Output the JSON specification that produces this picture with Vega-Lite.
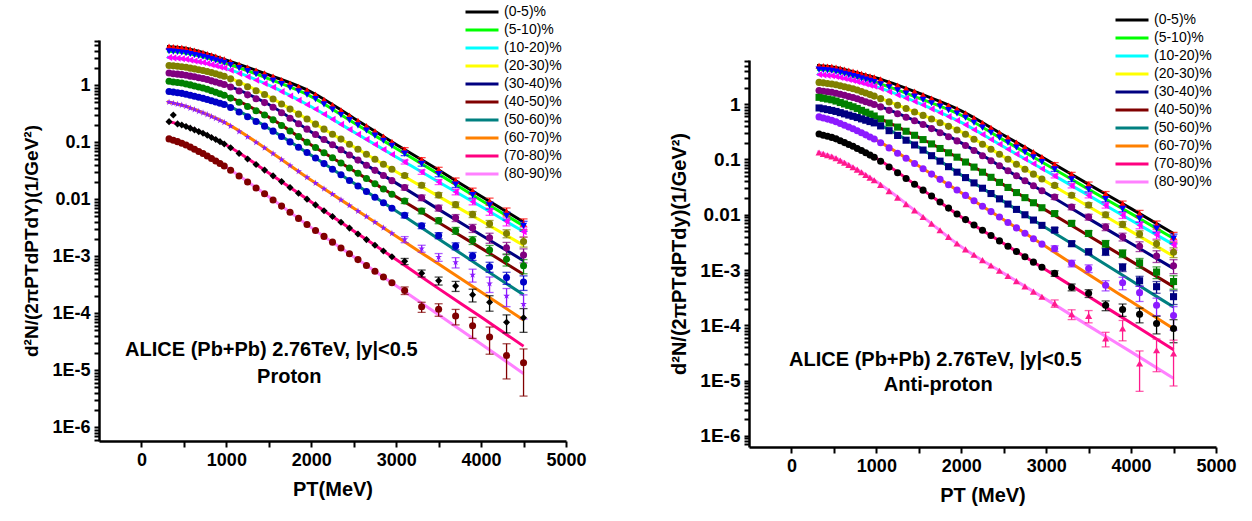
{
"$schema":"https://vega.github.io/schema/vega-lite/v6.json",
"padding":{"left":22,"top":5,"right":5,"bottom":5},
"config":{"view":{"stroke":null},
"axis":{"domainColor":"#000","domainWidth":2.5,"tickColor":"#000","tickWidth":2,"tickSize":6,"labelColor":"#000","labelFont":"Liberation Sans","labelFontWeight":"bold","labelFontSize":18,"titleFont":"Liberation Sans","titleFontWeight":"bold","titleColor":"#000","grid":false,"labelOverlap":false,"labelPadding":4,"labelFlush":false},
"legend":{"labelFont":"Liberation Sans","labelFontSize":14,"labelColor":"#000"}},
"datasets":{
"fL":[
{"g":"(0-5)%","x":300,"y":4.79},{"g":"(0-5)%","x":500,"y":4.47},{"g":"(0-5)%","x":750,"y":3.63},{"g":"(0-5)%","x":1000,"y":2.75},{"g":"(0-5)%","x":1500,"y":1.51},{"g":"(0-5)%","x":2000,"y":0.759},{"g":"(0-5)%","x":2500,"y":0.263},{"g":"(0-5)%","x":3000,"y":0.0912},{"g":"(0-5)%","x":3500,"y":0.0324},{"g":"(0-5)%","x":4000,"y":0.0112},{"g":"(0-5)%","x":4500,"y":0.00398},
{"g":"(5-10)%","x":300,"y":3.98},{"g":"(5-10)%","x":500,"y":3.72},{"g":"(5-10)%","x":750,"y":3.09},{"g":"(5-10)%","x":1000,"y":2.4},{"g":"(5-10)%","x":1500,"y":1.29},{"g":"(5-10)%","x":2000,"y":0.631},{"g":"(5-10)%","x":2500,"y":0.219},{"g":"(5-10)%","x":3000,"y":0.0776},{"g":"(5-10)%","x":3500,"y":0.0275},{"g":"(5-10)%","x":4000,"y":0.00955},{"g":"(5-10)%","x":4500,"y":0.00339},
{"g":"(10-20)%","x":300,"y":3.09},{"g":"(10-20)%","x":500,"y":2.88},{"g":"(10-20)%","x":750,"y":2.45},{"g":"(10-20)%","x":1000,"y":1.95},{"g":"(10-20)%","x":1500,"y":1.0},{"g":"(10-20)%","x":2000,"y":0.417},{"g":"(10-20)%","x":2500,"y":0.151},{"g":"(10-20)%","x":3000,"y":0.055},{"g":"(10-20)%","x":3500,"y":0.02},{"g":"(10-20)%","x":4000,"y":0.00741},{"g":"(10-20)%","x":4500,"y":0.00269},
{"g":"(20-30)%","x":300,"y":2.24},{"g":"(20-30)%","x":500,"y":2.09},{"g":"(20-30)%","x":750,"y":1.78},{"g":"(20-30)%","x":1000,"y":1.4},{"g":"(20-30)%","x":1500,"y":0.631},{"g":"(20-30)%","x":2000,"y":0.229},{"g":"(20-30)%","x":2500,"y":0.0832},{"g":"(20-30)%","x":3000,"y":0.0302},{"g":"(20-30)%","x":3500,"y":0.0112},{"g":"(20-30)%","x":4000,"y":0.00417},{"g":"(20-30)%","x":4500,"y":0.00155},
{"g":"(30-40)%","x":300,"y":1.64},{"g":"(30-40)%","x":500,"y":1.51},{"g":"(30-40)%","x":750,"y":1.29},{"g":"(30-40)%","x":1000,"y":1.0},{"g":"(30-40)%","x":1500,"y":0.457},{"g":"(30-40)%","x":2000,"y":0.151},{"g":"(30-40)%","x":2500,"y":0.0537},{"g":"(30-40)%","x":3000,"y":0.0191},{"g":"(30-40)%","x":3500,"y":0.00661},{"g":"(30-40)%","x":4000,"y":0.00234},{"g":"(30-40)%","x":4500,"y":0.000832},
{"g":"(40-50)%","x":300,"y":1.19},{"g":"(40-50)%","x":500,"y":1.07},{"g":"(40-50)%","x":750,"y":0.871},{"g":"(40-50)%","x":1000,"y":0.646},{"g":"(40-50)%","x":1500,"y":0.275},{"g":"(40-50)%","x":2000,"y":0.0891},{"g":"(40-50)%","x":2500,"y":0.0316},{"g":"(40-50)%","x":3000,"y":0.011},{"g":"(40-50)%","x":3500,"y":0.00389},{"g":"(40-50)%","x":4000,"y":0.00138},{"g":"(40-50)%","x":4500,"y":0.000479},
{"g":"(50-60)%","x":300,"y":0.785},{"g":"(50-60)%","x":500,"y":0.708},{"g":"(50-60)%","x":750,"y":0.575},{"g":"(50-60)%","x":1000,"y":0.447},{"g":"(50-60)%","x":1500,"y":0.174},{"g":"(50-60)%","x":2000,"y":0.0589},{"g":"(50-60)%","x":2500,"y":0.0191},{"g":"(50-60)%","x":3000,"y":0.00617},{"g":"(50-60)%","x":3500,"y":0.002},{"g":"(50-60)%","x":4000,"y":0.000646},{"g":"(50-60)%","x":4500,"y":0.000209},
{"g":"(60-70)%","x":300,"y":0.513},{"g":"(60-70)%","x":500,"y":0.437},{"g":"(60-70)%","x":750,"y":0.316},{"g":"(60-70)%","x":1000,"y":0.214},{"g":"(60-70)%","x":1500,"y":0.0708},{"g":"(60-70)%","x":2000,"y":0.0214},{"g":"(60-70)%","x":2500,"y":0.00692},{"g":"(60-70)%","x":3000,"y":0.00224},{"g":"(60-70)%","x":3500,"y":0.000724},{"g":"(60-70)%","x":4000,"y":0.000234},{"g":"(60-70)%","x":4500,"y":0.0000759},
{"g":"(70-80)%","x":300,"y":0.234},{"g":"(70-80)%","x":500,"y":0.195},{"g":"(70-80)%","x":750,"y":0.138},{"g":"(70-80)%","x":1000,"y":0.0891},{"g":"(70-80)%","x":1500,"y":0.0288},{"g":"(70-80)%","x":2000,"y":0.00891},{"g":"(70-80)%","x":2500,"y":0.00275},{"g":"(70-80)%","x":3000,"y":0.000871},{"g":"(70-80)%","x":3500,"y":0.000269},{"g":"(70-80)%","x":4000,"y":0.0000851},{"g":"(70-80)%","x":4500,"y":0.0000263},
{"g":"(80-90)%","x":300,"y":0.117},{"g":"(80-90)%","x":500,"y":0.0933},{"g":"(80-90)%","x":750,"y":0.0603},{"g":"(80-90)%","x":1000,"y":0.0363},{"g":"(80-90)%","x":1500,"y":0.011},{"g":"(80-90)%","x":2000,"y":0.00316},{"g":"(80-90)%","x":2500,"y":0.000977},{"g":"(80-90)%","x":3000,"y":0.000302},{"g":"(80-90)%","x":3500,"y":0.0000933},{"g":"(80-90)%","x":4000,"y":0.0000288},{"g":"(80-90)%","x":4500,"y":0.00000871}
],
"fR":[
{"g":"(0-5)%","x":300,"y":5.01},{"g":"(0-5)%","x":500,"y":4.68},{"g":"(0-5)%","x":750,"y":3.8},{"g":"(0-5)%","x":1000,"y":2.99},{"g":"(0-5)%","x":1500,"y":1.58},{"g":"(0-5)%","x":2000,"y":0.759},{"g":"(0-5)%","x":2500,"y":0.275},{"g":"(0-5)%","x":3000,"y":0.1},{"g":"(0-5)%","x":3500,"y":0.0355},{"g":"(0-5)%","x":4000,"y":0.0129},{"g":"(0-5)%","x":4500,"y":0.00457},
{"g":"(5-10)%","x":300,"y":4.27},{"g":"(5-10)%","x":500,"y":3.98},{"g":"(5-10)%","x":750,"y":3.16},{"g":"(5-10)%","x":1000,"y":2.45},{"g":"(5-10)%","x":1500,"y":1.29},{"g":"(5-10)%","x":2000,"y":0.631},{"g":"(5-10)%","x":2500,"y":0.224},{"g":"(5-10)%","x":3000,"y":0.0813},{"g":"(5-10)%","x":3500,"y":0.0288},{"g":"(5-10)%","x":4000,"y":0.0105},{"g":"(5-10)%","x":4500,"y":0.00372},
{"g":"(10-20)%","x":300,"y":3.47},{"g":"(10-20)%","x":500,"y":3.24},{"g":"(10-20)%","x":750,"y":2.63},{"g":"(10-20)%","x":1000,"y":2.06},{"g":"(10-20)%","x":1500,"y":1.05},{"g":"(10-20)%","x":2000,"y":0.468},{"g":"(10-20)%","x":2500,"y":0.17},{"g":"(10-20)%","x":3000,"y":0.0617},{"g":"(10-20)%","x":3500,"y":0.0224},{"g":"(10-20)%","x":4000,"y":0.00794},{"g":"(10-20)%","x":4500,"y":0.00288},
{"g":"(20-30)%","x":300,"y":2.51},{"g":"(20-30)%","x":500,"y":2.29},{"g":"(20-30)%","x":750,"y":1.86},{"g":"(20-30)%","x":1000,"y":1.36},{"g":"(20-30)%","x":1500,"y":0.676},{"g":"(20-30)%","x":2000,"y":0.316},{"g":"(20-30)%","x":2500,"y":0.112},{"g":"(20-30)%","x":3000,"y":0.0398},{"g":"(20-30)%","x":3500,"y":0.0141},{"g":"(20-30)%","x":4000,"y":0.00501},{"g":"(20-30)%","x":4500,"y":0.00178},
{"g":"(30-40)%","x":300,"y":1.78},{"g":"(30-40)%","x":500,"y":1.62},{"g":"(30-40)%","x":750,"y":1.29},{"g":"(30-40)%","x":1000,"y":0.959},{"g":"(30-40)%","x":1500,"y":0.468},{"g":"(30-40)%","x":2000,"y":0.2},{"g":"(30-40)%","x":2500,"y":0.0692},{"g":"(30-40)%","x":3000,"y":0.0245},{"g":"(30-40)%","x":3500,"y":0.00851},{"g":"(30-40)%","x":4000,"y":0.00302},{"g":"(30-40)%","x":4500,"y":0.00107},
{"g":"(40-50)%","x":300,"y":1.35},{"g":"(40-50)%","x":500,"y":1.17},{"g":"(40-50)%","x":750,"y":0.871},{"g":"(40-50)%","x":1000,"y":0.589},{"g":"(40-50)%","x":1500,"y":0.251},{"g":"(40-50)%","x":2000,"y":0.1},{"g":"(40-50)%","x":2500,"y":0.0347},{"g":"(40-50)%","x":3000,"y":0.012},{"g":"(40-50)%","x":3500,"y":0.00417},{"g":"(40-50)%","x":4000,"y":0.00145},{"g":"(40-50)%","x":4500,"y":0.000501},
{"g":"(50-60)%","x":300,"y":0.871},{"g":"(50-60)%","x":500,"y":0.759},{"g":"(50-60)%","x":750,"y":0.589},{"g":"(50-60)%","x":1000,"y":0.447},{"g":"(50-60)%","x":1500,"y":0.166},{"g":"(50-60)%","x":2000,"y":0.0525},{"g":"(50-60)%","x":2500,"y":0.0174},{"g":"(50-60)%","x":3000,"y":0.00575},{"g":"(50-60)%","x":3500,"y":0.00195},{"g":"(50-60)%","x":4000,"y":0.000646},{"g":"(50-60)%","x":4500,"y":0.000214},
{"g":"(60-70)%","x":300,"y":0.603},{"g":"(60-70)%","x":500,"y":0.501},{"g":"(60-70)%","x":750,"y":0.347},{"g":"(60-70)%","x":1000,"y":0.224},{"g":"(60-70)%","x":1500,"y":0.0759},{"g":"(60-70)%","x":2000,"y":0.0251},{"g":"(60-70)%","x":2500,"y":0.00813},{"g":"(60-70)%","x":3000,"y":0.00263},{"g":"(60-70)%","x":3500,"y":0.000832},{"g":"(60-70)%","x":4000,"y":0.000269},{"g":"(60-70)%","x":4500,"y":0.0000871},
{"g":"(70-80)%","x":300,"y":0.295},{"g":"(70-80)%","x":500,"y":0.245},{"g":"(70-80)%","x":750,"y":0.166},{"g":"(70-80)%","x":1000,"y":0.105},{"g":"(70-80)%","x":1500,"y":0.0316},{"g":"(70-80)%","x":2000,"y":0.00912},{"g":"(70-80)%","x":2500,"y":0.00302},{"g":"(70-80)%","x":3000,"y":0.001},{"g":"(70-80)%","x":3500,"y":0.000331},{"g":"(70-80)%","x":4000,"y":0.00011},{"g":"(70-80)%","x":4500,"y":0.0000363},
{"g":"(80-90)%","x":300,"y":0.138},{"g":"(80-90)%","x":500,"y":0.11},{"g":"(80-90)%","x":750,"y":0.0692},{"g":"(80-90)%","x":1000,"y":0.0398},{"g":"(80-90)%","x":1500,"y":0.0105},{"g":"(80-90)%","x":2000,"y":0.00263},{"g":"(80-90)%","x":2500,"y":0.000871},{"g":"(80-90)%","x":3000,"y":0.000295},{"g":"(80-90)%","x":3500,"y":0.0000977},{"g":"(80-90)%","x":4000,"y":0.0000331},{"g":"(80-90)%","x":4500,"y":0.000011}
],
"pL":[
{"c":"(0-5)%","x":325,"y":4.74},{"c":"(0-5)%","x":375,"y":4.67},{"c":"(0-5)%","x":425,"y":4.58},{"c":"(0-5)%","x":475,"y":4.51},{"c":"(0-5)%","x":525,"y":4.38},{"c":"(0-5)%","x":575,"y":4.2},{"c":"(0-5)%","x":625,"y":4.03},{"c":"(0-5)%","x":675,"y":3.86},{"c":"(0-5)%","x":725,"y":3.71},{"c":"(0-5)%","x":775,"y":3.53},{"c":"(0-5)%","x":825,"y":3.34},{"c":"(0-5)%","x":875,"y":3.16},{"c":"(0-5)%","x":925,"y":2.99},{"c":"(0-5)%","x":975,"y":2.83},{"c":"(0-5)%","x":1050,"y":2.59},{"c":"(0-5)%","x":1150,"y":2.3},{"c":"(0-5)%","x":1250,"y":2.04},{"c":"(0-5)%","x":1350,"y":1.81},{"c":"(0-5)%","x":1450,"y":1.61},{"c":"(0-5)%","x":1550,"y":1.41},{"c":"(0-5)%","x":1650,"y":1.23},{"c":"(0-5)%","x":1750,"y":1.07},{"c":"(0-5)%","x":1850,"y":0.933},{"c":"(0-5)%","x":1950,"y":0.813},{"c":"(0-5)%","x":2050,"y":0.682},{"c":"(0-5)%","x":2150,"y":0.552},{"c":"(0-5)%","x":2250,"y":0.447},{"c":"(0-5)%","x":2350,"y":0.361},{"c":"(0-5)%","x":2450,"y":0.292},{"c":"(0-5)%","x":2550,"y":0.237},{"c":"(0-5)%","x":2650,"y":0.191},{"c":"(0-5)%","x":2750,"y":0.155},{"c":"(0-5)%","x":2850,"y":0.125},{"c":"(0-5)%","x":2950,"y":0.101},{"c":"(0-5)%","x":3100,"y":0.0741,"e":0.0059},{"c":"(0-5)%","x":3300,"y":0.049,"e":0.0044},{"c":"(0-5)%","x":3500,"y":0.033,"e":0.0032},{"c":"(0-5)%","x":3700,"y":0.0212,"e":0.0023},{"c":"(0-5)%","x":3900,"y":0.0139,"e":0.0017},{"c":"(0-5)%","x":4100,"y":0.00912,"e":0.0013},{"c":"(0-5)%","x":4300,"y":0.00603,"e":0.00096},{"c":"(0-5)%","x":4500,"y":0.0037,"e":0.0008},
{"c":"(5-10)%","x":325,"y":3.94},{"c":"(5-10)%","x":375,"y":3.88},{"c":"(5-10)%","x":425,"y":3.81},{"c":"(5-10)%","x":475,"y":3.75},{"c":"(5-10)%","x":525,"y":3.65},{"c":"(5-10)%","x":575,"y":3.52},{"c":"(5-10)%","x":625,"y":3.39},{"c":"(5-10)%","x":675,"y":3.27},{"c":"(5-10)%","x":725,"y":3.15},{"c":"(5-10)%","x":775,"y":3.01},{"c":"(5-10)%","x":825,"y":2.86},{"c":"(5-10)%","x":875,"y":2.72},{"c":"(5-10)%","x":925,"y":2.59},{"c":"(5-10)%","x":975,"y":2.46},{"c":"(5-10)%","x":1050,"y":2.25},{"c":"(5-10)%","x":1150,"y":1.99},{"c":"(5-10)%","x":1250,"y":1.76},{"c":"(5-10)%","x":1350,"y":1.55},{"c":"(5-10)%","x":1450,"y":1.37},{"c":"(5-10)%","x":1550,"y":1.2},{"c":"(5-10)%","x":1650,"y":1.04},{"c":"(5-10)%","x":1750,"y":0.9},{"c":"(5-10)%","x":1850,"y":0.78},{"c":"(5-10)%","x":1950,"y":0.68},{"c":"(5-10)%","x":2050,"y":0.568},{"c":"(5-10)%","x":2150,"y":0.459},{"c":"(5-10)%","x":2250,"y":0.372},{"c":"(5-10)%","x":2350,"y":0.3},{"c":"(5-10)%","x":2450,"y":0.243},{"c":"(5-10)%","x":2550,"y":0.197},{"c":"(5-10)%","x":2650,"y":0.16},{"c":"(5-10)%","x":2750,"y":0.13},{"c":"(5-10)%","x":2850,"y":0.106},{"c":"(5-10)%","x":2950,"y":0.086},{"c":"(5-10)%","x":3100,"y":0.063,"e":0.005},{"c":"(5-10)%","x":3300,"y":0.0417,"e":0.0038},{"c":"(5-10)%","x":3500,"y":0.0275,"e":0.0028},{"c":"(5-10)%","x":3700,"y":0.018,"e":0.002},{"c":"(5-10)%","x":3900,"y":0.0118,"e":0.0014},{"c":"(5-10)%","x":4100,"y":0.0078,"e":0.0011},{"c":"(5-10)%","x":4300,"y":0.0051,"e":0.00082},{"c":"(5-10)%","x":4500,"y":0.0034,"e":0.00068},
{"c":"(10-20)%","x":325,"y":3.06},{"c":"(10-20)%","x":375,"y":3.01},{"c":"(10-20)%","x":425,"y":2.96},{"c":"(10-20)%","x":475,"y":2.91},{"c":"(10-20)%","x":525,"y":2.84},{"c":"(10-20)%","x":575,"y":2.75},{"c":"(10-20)%","x":625,"y":2.66},{"c":"(10-20)%","x":675,"y":2.58},{"c":"(10-20)%","x":725,"y":2.49},{"c":"(10-20)%","x":775,"y":2.4},{"c":"(10-20)%","x":825,"y":2.29},{"c":"(10-20)%","x":875,"y":2.19},{"c":"(10-20)%","x":925,"y":2.09},{"c":"(10-20)%","x":975,"y":2.0},{"c":"(10-20)%","x":1050,"y":1.82},{"c":"(10-20)%","x":1150,"y":1.6},{"c":"(10-20)%","x":1250,"y":1.4},{"c":"(10-20)%","x":1350,"y":1.22},{"c":"(10-20)%","x":1450,"y":1.07},{"c":"(10-20)%","x":1550,"y":0.916},{"c":"(10-20)%","x":1650,"y":0.769},{"c":"(10-20)%","x":1750,"y":0.646},{"c":"(10-20)%","x":1850,"y":0.542},{"c":"(10-20)%","x":1950,"y":0.455},{"c":"(10-20)%","x":2050,"y":0.377},{"c":"(10-20)%","x":2150,"y":0.308},{"c":"(10-20)%","x":2250,"y":0.251},{"c":"(10-20)%","x":2350,"y":0.205},{"c":"(10-20)%","x":2450,"y":0.167},{"c":"(10-20)%","x":2550,"y":0.137},{"c":"(10-20)%","x":2650,"y":0.112},{"c":"(10-20)%","x":2750,"y":0.0912},{"c":"(10-20)%","x":2850,"y":0.0745},{"c":"(10-20)%","x":2950,"y":0.0608},{"c":"(10-20)%","x":3100,"y":0.0449,"e":0.0036},{"c":"(10-20)%","x":3300,"y":0.0299,"e":0.0027},{"c":"(10-20)%","x":3500,"y":0.02,"e":0.002},{"c":"(10-20)%","x":3700,"y":0.0134,"e":0.0015},{"c":"(10-20)%","x":3900,"y":0.00904,"e":0.0011},{"c":"(10-20)%","x":4100,"y":0.00605,"e":0.00085},{"c":"(10-20)%","x":4300,"y":0.00404,"e":0.00065},{"c":"(10-20)%","x":4500,"y":0.00269,"e":0.00054},
{"c":"(20-30)%","x":325,"y":2.22},{"c":"(20-30)%","x":375,"y":2.18},{"c":"(20-30)%","x":425,"y":2.14},{"c":"(20-30)%","x":475,"y":2.11},{"c":"(20-30)%","x":525,"y":2.06},{"c":"(20-30)%","x":575,"y":1.99},{"c":"(20-30)%","x":625,"y":1.93},{"c":"(20-30)%","x":675,"y":1.87},{"c":"(20-30)%","x":725,"y":1.81},{"c":"(20-30)%","x":775,"y":1.74},{"c":"(20-30)%","x":825,"y":1.66},{"c":"(20-30)%","x":875,"y":1.58},{"c":"(20-30)%","x":925,"y":1.5},{"c":"(20-30)%","x":975,"y":1.43},{"c":"(20-30)%","x":1050,"y":1.29},{"c":"(20-30)%","x":1150,"y":1.1},{"c":"(20-30)%","x":1250,"y":0.94},{"c":"(20-30)%","x":1350,"y":0.8},{"c":"(20-30)%","x":1450,"y":0.684},{"c":"(20-30)%","x":1550,"y":0.57},{"c":"(20-30)%","x":1650,"y":0.466},{"c":"(20-30)%","x":1750,"y":0.38},{"c":"(20-30)%","x":1850,"y":0.31},{"c":"(20-30)%","x":1950,"y":0.254},{"c":"(20-30)%","x":2050,"y":0.207},{"c":"(20-30)%","x":2150,"y":0.169},{"c":"(20-30)%","x":2250,"y":0.138},{"c":"(20-30)%","x":2350,"y":0.113},{"c":"(20-30)%","x":2450,"y":0.092},{"c":"(20-30)%","x":2550,"y":0.0752},{"c":"(20-30)%","x":2650,"y":0.0614},{"c":"(20-30)%","x":2750,"y":0.0501},{"c":"(20-30)%","x":2850,"y":0.0409},{"c":"(20-30)%","x":2950,"y":0.0334},{"c":"(20-30)%","x":3100,"y":0.026,"e":0.0021},{"c":"(20-30)%","x":3300,"y":0.0175,"e":0.0016},{"c":"(20-30)%","x":3500,"y":0.0118,"e":0.0012},{"c":"(20-30)%","x":3700,"y":0.008,"e":0.00088},{"c":"(20-30)%","x":3900,"y":0.0054,"e":0.00065},{"c":"(20-30)%","x":4100,"y":0.0037,"e":0.00052},{"c":"(20-30)%","x":4300,"y":0.0025,"e":0.0004},{"c":"(20-30)%","x":4500,"y":0.0018,"e":0.00036},
{"c":"(30-40)%","x":325,"y":1.63},{"c":"(30-40)%","x":375,"y":1.59},{"c":"(30-40)%","x":425,"y":1.56},{"c":"(30-40)%","x":475,"y":1.53},{"c":"(30-40)%","x":525,"y":1.49},{"c":"(30-40)%","x":575,"y":1.44},{"c":"(30-40)%","x":625,"y":1.4},{"c":"(30-40)%","x":675,"y":1.35},{"c":"(30-40)%","x":725,"y":1.31},{"c":"(30-40)%","x":775,"y":1.26},{"c":"(30-40)%","x":825,"y":1.19},{"c":"(30-40)%","x":875,"y":1.14},{"c":"(30-40)%","x":925,"y":1.08},{"c":"(30-40)%","x":975,"y":1.03},{"c":"(30-40)%","x":1050,"y":0.925},{"c":"(30-40)%","x":1150,"y":0.791},{"c":"(30-40)%","x":1250,"y":0.676},{"c":"(30-40)%","x":1350,"y":0.578},{"c":"(30-40)%","x":1450,"y":0.494},{"c":"(30-40)%","x":1550,"y":0.409},{"c":"(30-40)%","x":1650,"y":0.328},{"c":"(30-40)%","x":1750,"y":0.263},{"c":"(30-40)%","x":1850,"y":0.211},{"c":"(30-40)%","x":1950,"y":0.169},{"c":"(30-40)%","x":2050,"y":0.136},{"c":"(30-40)%","x":2150,"y":0.111},{"c":"(30-40)%","x":2250,"y":0.0902},{"c":"(30-40)%","x":2350,"y":0.0733},{"c":"(30-40)%","x":2450,"y":0.0596},{"c":"(30-40)%","x":2550,"y":0.0484},{"c":"(30-40)%","x":2650,"y":0.0394},{"c":"(30-40)%","x":2750,"y":0.032},{"c":"(30-40)%","x":2850,"y":0.026},{"c":"(30-40)%","x":2950,"y":0.0211},{"c":"(30-40)%","x":3100,"y":0.016,"e":0.0016},{"c":"(30-40)%","x":3300,"y":0.0106,"e":0.0012},{"c":"(30-40)%","x":3500,"y":0.007,"e":0.00084},{"c":"(30-40)%","x":3700,"y":0.0047,"e":0.00066},{"c":"(30-40)%","x":3900,"y":0.0031,"e":0.0005},{"c":"(30-40)%","x":4100,"y":0.0021,"e":0.00042},{"c":"(30-40)%","x":4300,"y":0.0014,"e":0.00034},{"c":"(30-40)%","x":4500,"y":0.00105,"e":0.00029},
{"c":"(40-50)%","x":325,"y":1.17},{"c":"(40-50)%","x":375,"y":1.14},{"c":"(40-50)%","x":425,"y":1.11},{"c":"(40-50)%","x":475,"y":1.09},{"c":"(40-50)%","x":525,"y":1.05},{"c":"(40-50)%","x":575,"y":1.01},{"c":"(40-50)%","x":625,"y":0.966},{"c":"(40-50)%","x":675,"y":0.927},{"c":"(40-50)%","x":725,"y":0.889},{"c":"(40-50)%","x":775,"y":0.845},{"c":"(40-50)%","x":825,"y":0.796},{"c":"(40-50)%","x":875,"y":0.75},{"c":"(40-50)%","x":925,"y":0.706},{"c":"(40-50)%","x":975,"y":0.665},{"c":"(40-50)%","x":1050,"y":0.593},{"c":"(40-50)%","x":1150,"y":0.5},{"c":"(40-50)%","x":1250,"y":0.422},{"c":"(40-50)%","x":1350,"y":0.356},{"c":"(40-50)%","x":1450,"y":0.3},{"c":"(40-50)%","x":1550,"y":0.246},{"c":"(40-50)%","x":1650,"y":0.196},{"c":"(40-50)%","x":1750,"y":0.157},{"c":"(40-50)%","x":1850,"y":0.125},{"c":"(40-50)%","x":1950,"y":0.0998},{"c":"(40-50)%","x":2050,"y":0.0804},{"c":"(40-50)%","x":2150,"y":0.0653},{"c":"(40-50)%","x":2250,"y":0.0531},{"c":"(40-50)%","x":2350,"y":0.0431},{"c":"(40-50)%","x":2450,"y":0.0351},{"c":"(40-50)%","x":2550,"y":0.0284},{"c":"(40-50)%","x":2650,"y":0.023},{"c":"(40-50)%","x":2750,"y":0.0186},{"c":"(40-50)%","x":2850,"y":0.0151},{"c":"(40-50)%","x":2950,"y":0.0122},{"c":"(40-50)%","x":3100,"y":0.0093,"e":0.00093},{"c":"(40-50)%","x":3300,"y":0.0062,"e":0.00068},{"c":"(40-50)%","x":3500,"y":0.0042,"e":0.0005},{"c":"(40-50)%","x":3700,"y":0.0028,"e":0.00039},{"c":"(40-50)%","x":3900,"y":0.0019,"e":0.0003},{"c":"(40-50)%","x":4100,"y":0.00128,"e":0.00026},{"c":"(40-50)%","x":4300,"y":0.00088,"e":0.00021},{"c":"(40-50)%","x":4500,"y":0.00068,"e":0.00019},
{"c":"(50-60)%","x":325,"y":0.774},{"c":"(50-60)%","x":375,"y":0.755},{"c":"(50-60)%","x":425,"y":0.736},{"c":"(50-60)%","x":475,"y":0.718},{"c":"(50-60)%","x":525,"y":0.693},{"c":"(50-60)%","x":575,"y":0.665},{"c":"(50-60)%","x":625,"y":0.638},{"c":"(50-60)%","x":675,"y":0.612},{"c":"(50-60)%","x":725,"y":0.587},{"c":"(50-60)%","x":775,"y":0.561},{"c":"(50-60)%","x":825,"y":0.533},{"c":"(50-60)%","x":875,"y":0.507},{"c":"(50-60)%","x":925,"y":0.482},{"c":"(50-60)%","x":975,"y":0.458},{"c":"(50-60)%","x":1050,"y":0.406},{"c":"(50-60)%","x":1150,"y":0.337},{"c":"(50-60)%","x":1250,"y":0.279},{"c":"(50-60)%","x":1350,"y":0.231},{"c":"(50-60)%","x":1450,"y":0.191},{"c":"(50-60)%","x":1550,"y":0.156},{"c":"(50-60)%","x":1650,"y":0.126},{"c":"(50-60)%","x":1750,"y":0.101},{"c":"(50-60)%","x":1850,"y":0.0815},{"c":"(50-60)%","x":1950,"y":0.0656},{"c":"(50-60)%","x":2050,"y":0.0526},{"c":"(50-60)%","x":2150,"y":0.042},{"c":"(50-60)%","x":2250,"y":0.0335},{"c":"(50-60)%","x":2350,"y":0.0267},{"c":"(50-60)%","x":2450,"y":0.0213},{"c":"(50-60)%","x":2550,"y":0.017},{"c":"(50-60)%","x":2650,"y":0.0136},{"c":"(50-60)%","x":2750,"y":0.0108},{"c":"(50-60)%","x":2850,"y":0.00865},{"c":"(50-60)%","x":2950,"y":0.0069},{"c":"(50-60)%","x":3100,"y":0.0052,"e":0.00052},{"c":"(50-60)%","x":3300,"y":0.0034,"e":0.00037},{"c":"(50-60)%","x":3500,"y":0.0023,"e":0.00028},{"c":"(50-60)%","x":3700,"y":0.0015,"e":0.00021},{"c":"(50-60)%","x":3900,"y":0.001,"e":0.00016},{"c":"(50-60)%","x":4100,"y":0.00065,"e":0.00013},{"c":"(50-60)%","x":4300,"y":0.00042,"e":0.0001},{"c":"(50-60)%","x":4500,"y":0.00035,"e":0.0001},
{"c":"(60-70)%","x":325,"y":0.502},{"c":"(60-70)%","x":375,"y":0.483},{"c":"(60-70)%","x":425,"y":0.463},{"c":"(60-70)%","x":475,"y":0.446},{"c":"(60-70)%","x":525,"y":0.423},{"c":"(60-70)%","x":575,"y":0.396},{"c":"(60-70)%","x":625,"y":0.372},{"c":"(60-70)%","x":675,"y":0.348},{"c":"(60-70)%","x":725,"y":0.327},{"c":"(60-70)%","x":775,"y":0.304},{"c":"(60-70)%","x":825,"y":0.281},{"c":"(60-70)%","x":875,"y":0.26},{"c":"(60-70)%","x":925,"y":0.24},{"c":"(60-70)%","x":975,"y":0.222},{"c":"(60-70)%","x":1050,"y":0.191},{"c":"(60-70)%","x":1150,"y":0.153},{"c":"(60-70)%","x":1250,"y":0.123},{"c":"(60-70)%","x":1350,"y":0.0986},{"c":"(60-70)%","x":1450,"y":0.0791},{"c":"(60-70)%","x":1550,"y":0.0628},{"c":"(60-70)%","x":1650,"y":0.0494},{"c":"(60-70)%","x":1750,"y":0.0389},{"c":"(60-70)%","x":1850,"y":0.0306},{"c":"(60-70)%","x":1950,"y":0.0241},{"c":"(60-70)%","x":2050,"y":0.0191},{"c":"(60-70)%","x":2150,"y":0.0152},{"c":"(60-70)%","x":2250,"y":0.0122},{"c":"(60-70)%","x":2350,"y":0.0097},{"c":"(60-70)%","x":2450,"y":0.00774},{"c":"(60-70)%","x":2550,"y":0.00618},{"c":"(60-70)%","x":2650,"y":0.00493},{"c":"(60-70)%","x":2750,"y":0.00394},{"c":"(60-70)%","x":2850,"y":0.00314},{"c":"(60-70)%","x":2950,"y":0.00251},{"c":"(60-70)%","x":3100,"y":0.00196,"e":0.00024},{"c":"(60-70)%","x":3300,"y":0.00136,"e":0.00019},{"c":"(60-70)%","x":3500,"y":0.00096,"e":0.00015},{"c":"(60-70)%","x":3700,"y":0.00078,"e":0.00016},{"c":"(60-70)%","x":3900,"y":0.00047,"e":0.00012},{"c":"(60-70)%","x":4100,"y":0.00033,"e":0.0001},{"c":"(60-70)%","x":4300,"y":0.0002,"e":0.00007},{"c":"(60-70)%","x":4500,"y":0.000144,"e":0.000065},
{"c":"(70-80)%","x":325,"y":0.229},{"c":"(70-80)%","x":375,"y":0.3},{"c":"(70-80)%","x":425,"y":0.209},{"c":"(70-80)%","x":475,"y":0.2},{"c":"(70-80)%","x":525,"y":0.188},{"c":"(70-80)%","x":575,"y":0.176},{"c":"(70-80)%","x":625,"y":0.164},{"c":"(70-80)%","x":675,"y":0.153},{"c":"(70-80)%","x":725,"y":0.143},{"c":"(70-80)%","x":775,"y":0.132},{"c":"(70-80)%","x":825,"y":0.121},{"c":"(70-80)%","x":875,"y":0.111},{"c":"(70-80)%","x":925,"y":0.102},{"c":"(70-80)%","x":975,"y":0.0931},{"c":"(70-80)%","x":1050,"y":0.0796},{"c":"(70-80)%","x":1150,"y":0.0635},{"c":"(70-80)%","x":1250,"y":0.0507},{"c":"(70-80)%","x":1350,"y":0.0405},{"c":"(70-80)%","x":1450,"y":0.0323},{"c":"(70-80)%","x":1550,"y":0.0256},{"c":"(70-80)%","x":1650,"y":0.0203},{"c":"(70-80)%","x":1750,"y":0.016},{"c":"(70-80)%","x":1850,"y":0.0127},{"c":"(70-80)%","x":1950,"y":0.01},{"c":"(70-80)%","x":2050,"y":0.00792},{"c":"(70-80)%","x":2150,"y":0.00627},{"c":"(70-80)%","x":2250,"y":0.00495},{"c":"(70-80)%","x":2350,"y":0.00392},{"c":"(70-80)%","x":2450,"y":0.0031},{"c":"(70-80)%","x":2550,"y":0.00245},{"c":"(70-80)%","x":2650,"y":0.00195},{"c":"(70-80)%","x":2750,"y":0.00155},{"c":"(70-80)%","x":2850,"y":0.00123},{"c":"(70-80)%","x":2950,"y":0.000977},{"c":"(70-80)%","x":3100,"y":0.00081,"e":0.0001},{"c":"(70-80)%","x":3300,"y":0.0005,"e":0.00007},{"c":"(70-80)%","x":3500,"y":0.00037,"e":0.000059},{"c":"(70-80)%","x":3700,"y":0.0003,"e":0.00006},{"c":"(70-80)%","x":3900,"y":0.00021,"e":0.000053},{"c":"(70-80)%","x":4100,"y":0.000155,"e":0.000047},{"c":"(70-80)%","x":4300,"y":0.000069,"e":0.000024},{"c":"(70-80)%","x":4500,"y":0.000083,"e":0.000037},
{"c":"(80-90)%","x":325,"y":0.114},{"c":"(80-90)%","x":375,"y":0.108},{"c":"(80-90)%","x":425,"y":0.102},{"c":"(80-90)%","x":475,"y":0.0959},{"c":"(80-90)%","x":525,"y":0.0893},{"c":"(80-90)%","x":575,"y":0.0818},{"c":"(80-90)%","x":625,"y":0.075},{"c":"(80-90)%","x":675,"y":0.0687},{"c":"(80-90)%","x":725,"y":0.063},{"c":"(80-90)%","x":775,"y":0.0573},{"c":"(80-90)%","x":825,"y":0.0518},{"c":"(80-90)%","x":875,"y":0.0468},{"c":"(80-90)%","x":925,"y":0.0423},{"c":"(80-90)%","x":975,"y":0.0382},{"c":"(80-90)%","x":1050,"y":0.0322},{"c":"(80-90)%","x":1150,"y":0.0254},{"c":"(80-90)%","x":1250,"y":0.02},{"c":"(80-90)%","x":1350,"y":0.0157},{"c":"(80-90)%","x":1450,"y":0.0124},{"c":"(80-90)%","x":1550,"y":0.00968},{"c":"(80-90)%","x":1650,"y":0.00755},{"c":"(80-90)%","x":1750,"y":0.00589},{"c":"(80-90)%","x":1850,"y":0.00459},{"c":"(80-90)%","x":1950,"y":0.00358},{"c":"(80-90)%","x":2050,"y":0.00281},{"c":"(80-90)%","x":2150,"y":0.00222},{"c":"(80-90)%","x":2250,"y":0.00176},{"c":"(80-90)%","x":2350,"y":0.00139},{"c":"(80-90)%","x":2450,"y":0.0011},{"c":"(80-90)%","x":2550,"y":0.000869},{"c":"(80-90)%","x":2650,"y":0.000687},{"c":"(80-90)%","x":2750,"y":0.000543},{"c":"(80-90)%","x":2850,"y":0.000429},{"c":"(80-90)%","x":2950,"y":0.00034},{"c":"(80-90)%","x":3100,"y":0.00025,"e":0.000038},{"c":"(80-90)%","x":3300,"y":0.000129,"e":0.000026},{"c":"(80-90)%","x":3500,"y":0.000117,"e":0.000029},{"c":"(80-90)%","x":3700,"y":0.0000891,"e":0.000027},{"c":"(80-90)%","x":3900,"y":0.00006,"e":0.000024},{"c":"(80-90)%","x":4100,"y":0.000038,"e":0.000019},{"c":"(80-90)%","x":4300,"y":0.000018,"e":0.000011},{"c":"(80-90)%","x":4500,"y":0.0000135,"e":0.00001}
],
"pR":[
{"c":"(0-5)%","x":325,"y":4.97},{"c":"(0-5)%","x":375,"y":4.89},{"c":"(0-5)%","x":425,"y":4.8},{"c":"(0-5)%","x":475,"y":4.72},{"c":"(0-5)%","x":525,"y":4.58},{"c":"(0-5)%","x":575,"y":4.4},{"c":"(0-5)%","x":625,"y":4.22},{"c":"(0-5)%","x":675,"y":4.05},{"c":"(0-5)%","x":725,"y":3.88},{"c":"(0-5)%","x":775,"y":3.72},{"c":"(0-5)%","x":825,"y":3.54},{"c":"(0-5)%","x":875,"y":3.37},{"c":"(0-5)%","x":925,"y":3.21},{"c":"(0-5)%","x":975,"y":3.06},{"c":"(0-5)%","x":1050,"y":2.81},{"c":"(0-5)%","x":1150,"y":2.47},{"c":"(0-5)%","x":1250,"y":2.18},{"c":"(0-5)%","x":1350,"y":1.92},{"c":"(0-5)%","x":1450,"y":1.69},{"c":"(0-5)%","x":1550,"y":1.47},{"c":"(0-5)%","x":1650,"y":1.27},{"c":"(0-5)%","x":1750,"y":1.1},{"c":"(0-5)%","x":1850,"y":0.946},{"c":"(0-5)%","x":1950,"y":0.817},{"c":"(0-5)%","x":2050,"y":0.686},{"c":"(0-5)%","x":2150,"y":0.56},{"c":"(0-5)%","x":2250,"y":0.457},{"c":"(0-5)%","x":2350,"y":0.373},{"c":"(0-5)%","x":2450,"y":0.305},{"c":"(0-5)%","x":2550,"y":0.249},{"c":"(0-5)%","x":2650,"y":0.203},{"c":"(0-5)%","x":2750,"y":0.166},{"c":"(0-5)%","x":2850,"y":0.136},{"c":"(0-5)%","x":2950,"y":0.111},{"c":"(0-5)%","x":3100,"y":0.0813,"e":0.0065},{"c":"(0-5)%","x":3300,"y":0.0537,"e":0.0048},{"c":"(0-5)%","x":3500,"y":0.0355,"e":0.0036},{"c":"(0-5)%","x":3700,"y":0.0237,"e":0.0026},{"c":"(0-5)%","x":3900,"y":0.0158,"e":0.0019},{"c":"(0-5)%","x":4100,"y":0.0105,"e":0.0015},{"c":"(0-5)%","x":4300,"y":0.0066,"e":0.0011},{"c":"(0-5)%","x":4500,"y":0.004,"e":0.0008},
{"c":"(5-10)%","x":325,"y":4.23},{"c":"(5-10)%","x":375,"y":4.16},{"c":"(5-10)%","x":425,"y":4.08},{"c":"(5-10)%","x":475,"y":4.02},{"c":"(5-10)%","x":525,"y":3.89},{"c":"(5-10)%","x":575,"y":3.72},{"c":"(5-10)%","x":625,"y":3.55},{"c":"(5-10)%","x":675,"y":3.39},{"c":"(5-10)%","x":725,"y":3.24},{"c":"(5-10)%","x":775,"y":3.08},{"c":"(5-10)%","x":825,"y":2.93},{"c":"(5-10)%","x":875,"y":2.79},{"c":"(5-10)%","x":925,"y":2.65},{"c":"(5-10)%","x":975,"y":2.52},{"c":"(5-10)%","x":1050,"y":2.3},{"c":"(5-10)%","x":1150,"y":2.02},{"c":"(5-10)%","x":1250,"y":1.78},{"c":"(5-10)%","x":1350,"y":1.56},{"c":"(5-10)%","x":1450,"y":1.37},{"c":"(5-10)%","x":1550,"y":1.2},{"c":"(5-10)%","x":1650,"y":1.04},{"c":"(5-10)%","x":1750,"y":0.902},{"c":"(5-10)%","x":1850,"y":0.782},{"c":"(5-10)%","x":1950,"y":0.678},{"c":"(5-10)%","x":2050,"y":0.569},{"c":"(5-10)%","x":2150,"y":0.462},{"c":"(5-10)%","x":2250,"y":0.376},{"c":"(5-10)%","x":2350,"y":0.305},{"c":"(5-10)%","x":2450,"y":0.248},{"c":"(5-10)%","x":2550,"y":0.202},{"c":"(5-10)%","x":2650,"y":0.165},{"c":"(5-10)%","x":2750,"y":0.135},{"c":"(5-10)%","x":2850,"y":0.11},{"c":"(5-10)%","x":2950,"y":0.09},{"c":"(5-10)%","x":3100,"y":0.0661,"e":0.0053},{"c":"(5-10)%","x":3300,"y":0.0437,"e":0.0039},{"c":"(5-10)%","x":3500,"y":0.0288,"e":0.0029},{"c":"(5-10)%","x":3700,"y":0.0192,"e":0.0021},{"c":"(5-10)%","x":3900,"y":0.0128,"e":0.0015},{"c":"(5-10)%","x":4100,"y":0.00851,"e":0.0012},{"c":"(5-10)%","x":4300,"y":0.00562,"e":0.0009},{"c":"(5-10)%","x":4500,"y":0.00372,"e":0.00074},
{"c":"(10-20)%","x":325,"y":3.44},{"c":"(10-20)%","x":375,"y":3.38},{"c":"(10-20)%","x":425,"y":3.32},{"c":"(10-20)%","x":475,"y":3.27},{"c":"(10-20)%","x":525,"y":3.17},{"c":"(10-20)%","x":575,"y":3.04},{"c":"(10-20)%","x":625,"y":2.92},{"c":"(10-20)%","x":675,"y":2.8},{"c":"(10-20)%","x":725,"y":2.69},{"c":"(10-20)%","x":775,"y":2.56},{"c":"(10-20)%","x":825,"y":2.44},{"c":"(10-20)%","x":875,"y":2.33},{"c":"(10-20)%","x":925,"y":2.21},{"c":"(10-20)%","x":975,"y":2.11},{"c":"(10-20)%","x":1050,"y":1.92},{"c":"(10-20)%","x":1150,"y":1.68},{"c":"(10-20)%","x":1250,"y":1.47},{"c":"(10-20)%","x":1350,"y":1.28},{"c":"(10-20)%","x":1450,"y":1.12},{"c":"(10-20)%","x":1550,"y":0.966},{"c":"(10-20)%","x":1650,"y":0.822},{"c":"(10-20)%","x":1750,"y":0.7},{"c":"(10-20)%","x":1850,"y":0.596},{"c":"(10-20)%","x":1950,"y":0.507},{"c":"(10-20)%","x":2050,"y":0.423},{"c":"(10-20)%","x":2150,"y":0.345},{"c":"(10-20)%","x":2250,"y":0.282},{"c":"(10-20)%","x":2350,"y":0.23},{"c":"(10-20)%","x":2450,"y":0.188},{"c":"(10-20)%","x":2550,"y":0.153},{"c":"(10-20)%","x":2650,"y":0.125},{"c":"(10-20)%","x":2750,"y":0.102},{"c":"(10-20)%","x":2850,"y":0.0836},{"c":"(10-20)%","x":2950,"y":0.0682},{"c":"(10-20)%","x":3100,"y":0.0504,"e":0.004},{"c":"(10-20)%","x":3300,"y":0.0336,"e":0.003},{"c":"(10-20)%","x":3500,"y":0.0224,"e":0.0022},{"c":"(10-20)%","x":3700,"y":0.0148,"e":0.0016},{"c":"(10-20)%","x":3900,"y":0.00977,"e":0.0012},{"c":"(10-20)%","x":4100,"y":0.00649,"e":0.00091},{"c":"(10-20)%","x":4300,"y":0.00433,"e":0.00069},{"c":"(10-20)%","x":4500,"y":0.00288,"e":0.00058},
{"c":"(20-30)%","x":325,"y":2.48},{"c":"(20-30)%","x":375,"y":2.43},{"c":"(20-30)%","x":425,"y":2.37},{"c":"(20-30)%","x":475,"y":2.32},{"c":"(20-30)%","x":525,"y":2.24},{"c":"(20-30)%","x":575,"y":2.15},{"c":"(20-30)%","x":625,"y":2.07},{"c":"(20-30)%","x":675,"y":1.98},{"c":"(20-30)%","x":725,"y":1.9},{"c":"(20-30)%","x":775,"y":1.8},{"c":"(20-30)%","x":825,"y":1.69},{"c":"(20-30)%","x":875,"y":1.59},{"c":"(20-30)%","x":925,"y":1.49},{"c":"(20-30)%","x":975,"y":1.4},{"c":"(20-30)%","x":1050,"y":1.26},{"c":"(20-30)%","x":1150,"y":1.1},{"c":"(20-30)%","x":1250,"y":0.957},{"c":"(20-30)%","x":1350,"y":0.834},{"c":"(20-30)%","x":1450,"y":0.724},{"c":"(20-30)%","x":1550,"y":0.627},{"c":"(20-30)%","x":1650,"y":0.538},{"c":"(20-30)%","x":1750,"y":0.462},{"c":"(20-30)%","x":1850,"y":0.397},{"c":"(20-30)%","x":1950,"y":0.341},{"c":"(20-30)%","x":2050,"y":0.285},{"c":"(20-30)%","x":2150,"y":0.232},{"c":"(20-30)%","x":2250,"y":0.188},{"c":"(20-30)%","x":2350,"y":0.153},{"c":"(20-30)%","x":2450,"y":0.124},{"c":"(20-30)%","x":2550,"y":0.101},{"c":"(20-30)%","x":2650,"y":0.0822},{"c":"(20-30)%","x":2750,"y":0.0668},{"c":"(20-30)%","x":2850,"y":0.0543},{"c":"(20-30)%","x":2950,"y":0.0442},{"c":"(20-30)%","x":3100,"y":0.034,"e":0.0027},{"c":"(20-30)%","x":3300,"y":0.0225,"e":0.002},{"c":"(20-30)%","x":3500,"y":0.015,"e":0.0015},{"c":"(20-30)%","x":3700,"y":0.01,"e":0.0011},{"c":"(20-30)%","x":3900,"y":0.0067,"e":0.0008},{"c":"(20-30)%","x":4100,"y":0.0045,"e":0.00063},{"c":"(20-30)%","x":4300,"y":0.003,"e":0.00048},{"c":"(20-30)%","x":4500,"y":0.0021,"e":0.00042},
{"c":"(30-40)%","x":325,"y":1.76},{"c":"(30-40)%","x":375,"y":1.72},{"c":"(30-40)%","x":425,"y":1.68},{"c":"(30-40)%","x":475,"y":1.64},{"c":"(30-40)%","x":525,"y":1.58},{"c":"(30-40)%","x":575,"y":1.51},{"c":"(30-40)%","x":625,"y":1.45},{"c":"(30-40)%","x":675,"y":1.38},{"c":"(30-40)%","x":725,"y":1.32},{"c":"(30-40)%","x":775,"y":1.25},{"c":"(30-40)%","x":825,"y":1.18},{"c":"(30-40)%","x":875,"y":1.11},{"c":"(30-40)%","x":925,"y":1.05},{"c":"(30-40)%","x":975,"y":0.989},{"c":"(30-40)%","x":1050,"y":0.893},{"c":"(30-40)%","x":1150,"y":0.773},{"c":"(30-40)%","x":1250,"y":0.67},{"c":"(30-40)%","x":1350,"y":0.581},{"c":"(30-40)%","x":1450,"y":0.502},{"c":"(30-40)%","x":1550,"y":0.43},{"c":"(30-40)%","x":1650,"y":0.362},{"c":"(30-40)%","x":1750,"y":0.305},{"c":"(30-40)%","x":1850,"y":0.258},{"c":"(30-40)%","x":1950,"y":0.217},{"c":"(30-40)%","x":2050,"y":0.179},{"c":"(30-40)%","x":2150,"y":0.145},{"c":"(30-40)%","x":2250,"y":0.117},{"c":"(30-40)%","x":2350,"y":0.0951},{"c":"(30-40)%","x":2450,"y":0.0769},{"c":"(30-40)%","x":2550,"y":0.0624},{"c":"(30-40)%","x":2650,"y":0.0507},{"c":"(30-40)%","x":2750,"y":0.0412},{"c":"(30-40)%","x":2850,"y":0.0335},{"c":"(30-40)%","x":2950,"y":0.0272},{"c":"(30-40)%","x":3100,"y":0.021,"e":0.0021},{"c":"(30-40)%","x":3300,"y":0.0138,"e":0.0015},{"c":"(30-40)%","x":3500,"y":0.0091,"e":0.0011},{"c":"(30-40)%","x":3700,"y":0.006,"e":0.00084},{"c":"(30-40)%","x":3900,"y":0.004,"e":0.00064},{"c":"(30-40)%","x":4100,"y":0.0027,"e":0.00054},{"c":"(30-40)%","x":4300,"y":0.0018,"e":0.00043},{"c":"(30-40)%","x":4500,"y":0.0012,"e":0.00034},
{"c":"(40-50)%","x":325,"y":1.33},{"c":"(40-50)%","x":375,"y":1.28},{"c":"(40-50)%","x":425,"y":1.24},{"c":"(40-50)%","x":475,"y":1.2},{"c":"(40-50)%","x":525,"y":1.14},{"c":"(40-50)%","x":575,"y":1.07},{"c":"(40-50)%","x":625,"y":1.01},{"c":"(40-50)%","x":675,"y":0.953},{"c":"(40-50)%","x":725,"y":0.897},{"c":"(40-50)%","x":775,"y":0.838},{"c":"(40-50)%","x":825,"y":0.774},{"c":"(40-50)%","x":875,"y":0.716},{"c":"(40-50)%","x":925,"y":0.662},{"c":"(40-50)%","x":975,"y":0.612},{"c":"(40-50)%","x":1050,"y":0.541},{"c":"(40-50)%","x":1150,"y":0.456},{"c":"(40-50)%","x":1250,"y":0.385},{"c":"(40-50)%","x":1350,"y":0.324},{"c":"(40-50)%","x":1450,"y":0.274},{"c":"(40-50)%","x":1550,"y":0.229},{"c":"(40-50)%","x":1650,"y":0.191},{"c":"(40-50)%","x":1750,"y":0.158},{"c":"(40-50)%","x":1850,"y":0.132},{"c":"(40-50)%","x":1950,"y":0.11},{"c":"(40-50)%","x":2050,"y":0.0899},{"c":"(40-50)%","x":2150,"y":0.0728},{"c":"(40-50)%","x":2250,"y":0.0589},{"c":"(40-50)%","x":2350,"y":0.0476},{"c":"(40-50)%","x":2450,"y":0.0385},{"c":"(40-50)%","x":2550,"y":0.0312},{"c":"(40-50)%","x":2650,"y":0.0252},{"c":"(40-50)%","x":2750,"y":0.0204},{"c":"(40-50)%","x":2850,"y":0.0165},{"c":"(40-50)%","x":2950,"y":0.0134},{"c":"(40-50)%","x":3100,"y":0.0105,"e":0.0011},{"c":"(40-50)%","x":3300,"y":0.007,"e":0.00077},{"c":"(40-50)%","x":3500,"y":0.0046,"e":0.00055},{"c":"(40-50)%","x":3700,"y":0.003,"e":0.00042},{"c":"(40-50)%","x":3900,"y":0.002,"e":0.00032},{"c":"(40-50)%","x":4100,"y":0.00135,"e":0.00027},{"c":"(40-50)%","x":4300,"y":0.00092,"e":0.00022},{"c":"(40-50)%","x":4500,"y":0.00062,"e":0.00017},
{"c":"(50-60)%","x":325,"y":0.855},{"c":"(50-60)%","x":375,"y":0.826},{"c":"(50-60)%","x":425,"y":0.798},{"c":"(50-60)%","x":475,"y":0.771},{"c":"(50-60)%","x":525,"y":0.74},{"c":"(50-60)%","x":575,"y":0.703},{"c":"(50-60)%","x":625,"y":0.668},{"c":"(50-60)%","x":675,"y":0.635},{"c":"(50-60)%","x":725,"y":0.604},{"c":"(50-60)%","x":775,"y":0.573},{"c":"(50-60)%","x":825,"y":0.542},{"c":"(50-60)%","x":875,"y":0.513},{"c":"(50-60)%","x":925,"y":0.485},{"c":"(50-60)%","x":975,"y":0.459},{"c":"(50-60)%","x":1050,"y":0.405},{"c":"(50-60)%","x":1150,"y":0.332},{"c":"(50-60)%","x":1250,"y":0.272},{"c":"(50-60)%","x":1350,"y":0.223},{"c":"(50-60)%","x":1450,"y":0.183},{"c":"(50-60)%","x":1550,"y":0.148},{"c":"(50-60)%","x":1650,"y":0.117},{"c":"(50-60)%","x":1750,"y":0.0933},{"c":"(50-60)%","x":1850,"y":0.0741},{"c":"(50-60)%","x":1950,"y":0.0589},{"c":"(50-60)%","x":2050,"y":0.047},{"c":"(50-60)%","x":2150,"y":0.0377},{"c":"(50-60)%","x":2250,"y":0.0302},{"c":"(50-60)%","x":2350,"y":0.0242},{"c":"(50-60)%","x":2450,"y":0.0194},{"c":"(50-60)%","x":2550,"y":0.0156},{"c":"(50-60)%","x":2650,"y":0.0125},{"c":"(50-60)%","x":2750,"y":0.01},{"c":"(50-60)%","x":2850,"y":0.00802},{"c":"(50-60)%","x":2950,"y":0.00643},{"c":"(50-60)%","x":3100,"y":0.0053,"e":0.00053},{"c":"(50-60)%","x":3300,"y":0.003,"e":0.00033},{"c":"(50-60)%","x":3500,"y":0.00214,"e":0.00026},{"c":"(50-60)%","x":3700,"y":0.00214,"e":0.0003},{"c":"(50-60)%","x":3900,"y":0.00112,"e":0.00018},{"c":"(50-60)%","x":4100,"y":0.00064,"e":0.00013},{"c":"(50-60)%","x":4300,"y":0.0005,"e":0.00012},{"c":"(50-60)%","x":4500,"y":0.00033,"e":0.000092},
{"c":"(60-70)%","x":325,"y":0.589},{"c":"(60-70)%","x":375,"y":0.562},{"c":"(60-70)%","x":425,"y":0.537},{"c":"(60-70)%","x":475,"y":0.513},{"c":"(60-70)%","x":525,"y":0.483},{"c":"(60-70)%","x":575,"y":0.449},{"c":"(60-70)%","x":625,"y":0.417},{"c":"(60-70)%","x":675,"y":0.387},{"c":"(60-70)%","x":725,"y":0.36},{"c":"(60-70)%","x":775,"y":0.332},{"c":"(60-70)%","x":825,"y":0.304},{"c":"(60-70)%","x":875,"y":0.279},{"c":"(60-70)%","x":925,"y":0.255},{"c":"(60-70)%","x":975,"y":0.234},{"c":"(60-70)%","x":1050,"y":0.201},{"c":"(60-70)%","x":1150,"y":0.162},{"c":"(60-70)%","x":1250,"y":0.13},{"c":"(60-70)%","x":1350,"y":0.105},{"c":"(60-70)%","x":1450,"y":0.0845},{"c":"(60-70)%","x":1550,"y":0.0679},{"c":"(60-70)%","x":1650,"y":0.0544},{"c":"(60-70)%","x":1750,"y":0.0437},{"c":"(60-70)%","x":1850,"y":0.035},{"c":"(60-70)%","x":1950,"y":0.0281},{"c":"(60-70)%","x":2050,"y":0.0224},{"c":"(60-70)%","x":2150,"y":0.0179},{"c":"(60-70)%","x":2250,"y":0.0143},{"c":"(60-70)%","x":2350,"y":0.0114},{"c":"(60-70)%","x":2450,"y":0.0091},{"c":"(60-70)%","x":2550,"y":0.00727},{"c":"(60-70)%","x":2650,"y":0.00579},{"c":"(60-70)%","x":2750,"y":0.00462},{"c":"(60-70)%","x":2850,"y":0.00369},{"c":"(60-70)%","x":2950,"y":0.00294},{"c":"(60-70)%","x":3100,"y":0.00245,"e":0.00029},{"c":"(60-70)%","x":3300,"y":0.00132,"e":0.00018},{"c":"(60-70)%","x":3500,"y":0.00107,"e":0.00017},{"c":"(60-70)%","x":3700,"y":0.00053,"e":0.00011},{"c":"(60-70)%","x":3900,"y":0.00059,"e":0.00015},{"c":"(60-70)%","x":4100,"y":0.00039,"e":0.00012},{"c":"(60-70)%","x":4300,"y":0.00023,"e":0.00008},{"c":"(60-70)%","x":4500,"y":0.00015,"e":0.000068},
{"c":"(70-80)%","x":325,"y":0.288},{"c":"(70-80)%","x":375,"y":0.275},{"c":"(70-80)%","x":425,"y":0.263},{"c":"(70-80)%","x":475,"y":0.251},{"c":"(70-80)%","x":525,"y":0.236},{"c":"(70-80)%","x":575,"y":0.218},{"c":"(70-80)%","x":625,"y":0.202},{"c":"(70-80)%","x":675,"y":0.187},{"c":"(70-80)%","x":725,"y":0.173},{"c":"(70-80)%","x":775,"y":0.158},{"c":"(70-80)%","x":825,"y":0.145},{"c":"(70-80)%","x":875,"y":0.132},{"c":"(70-80)%","x":925,"y":0.12},{"c":"(70-80)%","x":975,"y":0.11},{"c":"(70-80)%","x":1050,"y":0.0929},{"c":"(70-80)%","x":1150,"y":0.0731},{"c":"(70-80)%","x":1250,"y":0.0575},{"c":"(70-80)%","x":1350,"y":0.0453},{"c":"(70-80)%","x":1450,"y":0.0356},{"c":"(70-80)%","x":1550,"y":0.0279},{"c":"(70-80)%","x":1650,"y":0.0218},{"c":"(70-80)%","x":1750,"y":0.017},{"c":"(70-80)%","x":1850,"y":0.0132},{"c":"(70-80)%","x":1950,"y":0.0103},{"c":"(70-80)%","x":2050,"y":0.00817},{"c":"(70-80)%","x":2150,"y":0.00655},{"c":"(70-80)%","x":2250,"y":0.00525},{"c":"(70-80)%","x":2350,"y":0.00421},{"c":"(70-80)%","x":2450,"y":0.00337},{"c":"(70-80)%","x":2550,"y":0.0027},{"c":"(70-80)%","x":2650,"y":0.00217},{"c":"(70-80)%","x":2750,"y":0.00174},{"c":"(70-80)%","x":2850,"y":0.00139},{"c":"(70-80)%","x":2950,"y":0.00112},{"c":"(70-80)%","x":3100,"y":0.00087,"e":0.0001},{"c":"(70-80)%","x":3300,"y":0.00049,"e":0.000069},{"c":"(70-80)%","x":3500,"y":0.00038,"e":0.000061},{"c":"(70-80)%","x":3700,"y":0.00023,"e":0.000046},{"c":"(70-80)%","x":3900,"y":0.000194,"e":0.000049},{"c":"(70-80)%","x":4100,"y":0.000158,"e":0.000047},{"c":"(70-80)%","x":4300,"y":0.000108,"e":0.000038},{"c":"(70-80)%","x":4500,"y":0.0000875,"e":0.000039},
{"c":"(80-90)%","x":325,"y":0.134},{"c":"(80-90)%","x":375,"y":0.126},{"c":"(80-90)%","x":425,"y":0.119},{"c":"(80-90)%","x":475,"y":0.113},{"c":"(80-90)%","x":525,"y":0.105},{"c":"(80-90)%","x":575,"y":0.0955},{"c":"(80-90)%","x":625,"y":0.0871},{"c":"(80-90)%","x":675,"y":0.0794},{"c":"(80-90)%","x":725,"y":0.0724},{"c":"(80-90)%","x":775,"y":0.0655},{"c":"(80-90)%","x":825,"y":0.0586},{"c":"(80-90)%","x":875,"y":0.0525},{"c":"(80-90)%","x":925,"y":0.047},{"c":"(80-90)%","x":975,"y":0.0421},{"c":"(80-90)%","x":1050,"y":0.0348},{"c":"(80-90)%","x":1150,"y":0.0267},{"c":"(80-90)%","x":1250,"y":0.0204},{"c":"(80-90)%","x":1350,"y":0.0156},{"c":"(80-90)%","x":1450,"y":0.012},{"c":"(80-90)%","x":1550,"y":0.00912},{"c":"(80-90)%","x":1650,"y":0.00692},{"c":"(80-90)%","x":1750,"y":0.00525},{"c":"(80-90)%","x":1850,"y":0.00398},{"c":"(80-90)%","x":1950,"y":0.00302},{"c":"(80-90)%","x":2050,"y":0.00236},{"c":"(80-90)%","x":2150,"y":0.00189},{"c":"(80-90)%","x":2250,"y":0.00151},{"c":"(80-90)%","x":2350,"y":0.00121},{"c":"(80-90)%","x":2450,"y":0.000973},{"c":"(80-90)%","x":2550,"y":0.000782},{"c":"(80-90)%","x":2650,"y":0.00063},{"c":"(80-90)%","x":2750,"y":0.000507},{"c":"(80-90)%","x":2850,"y":0.000408},{"c":"(80-90)%","x":2950,"y":0.000329},{"c":"(80-90)%","x":3100,"y":0.00025,"e":0.000038},{"c":"(80-90)%","x":3300,"y":0.000159,"e":0.000032},{"c":"(80-90)%","x":3500,"y":0.000148,"e":0.000037},{"c":"(80-90)%","x":3700,"y":0.0000578,"e":0.000017},{"c":"(80-90)%","x":3900,"y":0.0000875,"e":0.000035},{"c":"(80-90)%","x":4100,"y":0.0000204,"e":0.000014},{"c":"(80-90)%","x":4300,"y":0.0000355,"e":0.000021},{"c":"(80-90)%","x":4500,"y":0.000031,"e":0.000023}
]
},
"spacing":82,
"resolve":{"scale":{"x":"independent","y":"independent","color":"independent","shape":"independent","stroke":"independent"},"legend":{"stroke":"independent","color":"independent","shape":"independent"},"axis":{"x":"independent","y":"independent"}},
"hconcat":[
{
"width":467,"height":401,
"encoding":{
"x":{"field":"x","type":"quantitative","title":"PT(MeV)","scale":{"domain":[-500,5000],"nice":false,"zero":false},"axis":{"values":[0,500,1000,1500,2000,2500,3000,3500,4000,4500,5000],"labelExpr":"datum.value % 1000 == 0 ? format(datum.value,'d') : ''","titleFontSize":20,"titlePadding":10}},
"y":{"field":"y","type":"quantitative","title":"d²N/(2πPTdPTdY)(1/GeV²)","scale":{"type":"log","domain":[5.7e-7,6.2],"nice":false},"axis":{"values":[6e-7,7e-7,8e-7,9e-7,1e-6,2e-6,3e-6,4e-6,5e-6,6e-6,7e-6,8e-6,9e-6,1e-5,2e-5,3e-5,4e-5,5e-5,6e-5,7e-5,8e-5,9e-5,1e-4,2e-4,3e-4,4e-4,5e-4,6e-4,7e-4,8e-4,9e-4,0.001,0.002,0.003,0.004,0.005,0.006,0.007,0.008,0.009,0.01,0.02,0.03,0.04,0.05,0.06,0.07,0.08,0.09,0.1,0.2,0.3,0.4,0.5,0.6,0.7,0.8,0.9,1,2,3,4,5,6],"labelExpr":"abs(log(datum.value)/LN10 - round(log(datum.value)/LN10)) > 0.01 ? '' : (datum.value >= 0.01 ? format(datum.value, '') : '1E' + round(log(datum.value)/LN10))","tickSize":5,"titleFontSize":19,"titlePadding":10}}
},
"layer":[
{"data":{"name":"fL"},"mark":{"type":"line","strokeWidth":3,"interpolate":"monotone"},
"encoding":{"stroke":{"field":"g","type":"nominal","scale":{"domain":["(0-5)%","(5-10)%","(10-20)%","(20-30)%","(30-40)%","(40-50)%","(50-60)%","(60-70)%","(70-80)%","(80-90)%"],"range":["#000000","#00ff00","#00ffff","#ffff00","#000080","#800000","#008080","#ff8000","#ff0080","#ff80ff"]},"legend":{"title":null,"orient":"none","legendX":365,"legendY":-35,"symbolType":"M-1,0H5","symbolSize":121,"symbolStrokeWidth":3,"labelOffset":26,"rowPadding":4,"labelFontSize":14}}}},
{"data":{"name":"pL"},"transform":[{"filter":"datum.e > 0"}],"mark":{"type":"errorbar","ticks":true,"size":8,"thickness":1.3},
"encoding":{"yError":{"field":"e"},"color":{"field":"c","type":"nominal","scale":{"domain":["(0-5)%","(5-10)%","(10-20)%","(20-30)%","(30-40)%","(40-50)%","(50-60)%","(60-70)%","(70-80)%","(80-90)%","_"],"range":["#ff0000","#0000ff","#ff00ff","#808000","#800080","#008000","#0000c8","#8c1aff","#000000","#800000","#ffffff"]},"legend":null}}},
{"data":{"name":"pL"},"mark":{"type":"point","filled":true,"size":50,"opacity":1},
"encoding":{"color":{"field":"c","type":"nominal","scale":{"domain":["(0-5)%","(5-10)%","(10-20)%","(20-30)%","(30-40)%","(40-50)%","(50-60)%","(60-70)%","(70-80)%","(80-90)%","_"],"range":["#ff0000","#0000ff","#ff00ff","#808000","#800080","#008000","#0000c8","#8c1aff","#000000","#800000","#ffffff"]},"legend":null},
"shape":{"field":"c","type":"nominal","scale":{"domain":["(0-5)%","(5-10)%","(10-20)%","(20-30)%","(30-40)%","(40-50)%","(50-60)%","(60-70)%","(70-80)%","(80-90)%","__"],"range":["triangle-up","triangle-down","triangle-left","circle","circle","circle","circle","M0,-1L0.22,-0.31L0.95,-0.31L0.36,0.12L0.59,0.81L0,0.38L-0.59,0.81L-0.36,0.12L-0.95,-0.31L-0.22,-0.31Z","diamond","circle","circle"]},"legend":null}}},
{"data":{"values":[{"x":1529,"y":0.0000224,"t":"ALICE (Pb+Pb) 2.76TeV, |y|<0.5"},{"x":1741,"y":0.0000076,"t":"Proton"}]},"mark":{"type":"text","font":"Liberation Sans","fontSize":20,"fontWeight":"bold","align":"center","baseline":"middle","color":"#000"},"encoding":{"text":{"field":"t"}}}
]
},
{
"vconcat":[
{"width":467,"height":20,"data":{"values":[{"k":1}]},"mark":{"type":"point","opacity":0},"encoding":{}},
{
"width":467,"height":387,
"encoding":{
"x":{"field":"x","type":"quantitative","title":"PT (MeV)","scale":{"domain":[-500,5000],"nice":false,"zero":false},"axis":{"values":[0,500,1000,1500,2000,2500,3000,3500,4000,4500,5000],"labelExpr":"datum.value % 1000 == 0 ? format(datum.value,'d') : ''","titleFontSize":20,"titlePadding":10}},
"y":{"field":"y","type":"quantitative","title":"d²N/(2πPTdPTdy)(1/GeV²)","scale":{"type":"log","domain":[6.3e-7,6.3],"nice":false},"axis":{"values":[7e-7,8e-7,9e-7,1e-6,2e-6,3e-6,4e-6,5e-6,6e-6,7e-6,8e-6,9e-6,1e-5,2e-5,3e-5,4e-5,5e-5,6e-5,7e-5,8e-5,9e-5,1e-4,2e-4,3e-4,4e-4,5e-4,6e-4,7e-4,8e-4,9e-4,0.001,0.002,0.003,0.004,0.005,0.006,0.007,0.008,0.009,0.01,0.02,0.03,0.04,0.05,0.06,0.07,0.08,0.09,0.1,0.2,0.3,0.4,0.5,0.6,0.7,0.8,0.9,1,2,3,4,5,6],"labelExpr":"abs(log(datum.value)/LN10 - round(log(datum.value)/LN10)) > 0.01 ? '' : (datum.value >= 0.01 ? format(datum.value, '') : '1E' + round(log(datum.value)/LN10))","tickSize":5,"titleFontSize":20,"labelFontSize":19,"titlePadding":10}}
},
"layer":[
{"data":{"name":"fR"},"mark":{"type":"line","strokeWidth":3,"interpolate":"monotone"},
"encoding":{"stroke":{"field":"g","type":"nominal","scale":{"domain":["(0-5)%","(5-10)%","(10-20)%","(20-30)%","(30-40)%","(40-50)%","(50-60)%","(60-70)%","(70-80)%","(80-90)%"],"range":["#000000","#00ff00","#00ffff","#ffff00","#000080","#800000","#008080","#ff8000","#ff0080","#ff80ff"]},"legend":{"title":null,"orient":"none","legendX":365,"legendY":-27,"symbolType":"M-1,0H5","symbolSize":121,"symbolStrokeWidth":3,"labelOffset":26,"rowPadding":4,"labelFontSize":14}}}},
{"data":{"name":"pR"},"transform":[{"filter":"datum.e > 0"}],"mark":{"type":"errorbar","ticks":true,"size":8,"thickness":1.3},
"encoding":{"yError":{"field":"e"},"color":{"field":"c","type":"nominal","scale":{"domain":["(0-5)%","(5-10)%","(10-20)%","(20-30)%","(30-40)%","(40-50)%","(50-60)%","(60-70)%","(70-80)%","(80-90)%","_"],"range":["#ff0000","#0000ff","#ff00ff","#808000","#800080","#008000","#000080","#8c1aff","#000000","#ff1a8c","#ffffff"]},"legend":null}}},
{"data":{"name":"pR"},"mark":{"type":"point","filled":true,"size":50,"opacity":1},
"encoding":{"color":{"field":"c","type":"nominal","scale":{"domain":["(0-5)%","(5-10)%","(10-20)%","(20-30)%","(30-40)%","(40-50)%","(50-60)%","(60-70)%","(70-80)%","(80-90)%","_"],"range":["#ff0000","#0000ff","#ff00ff","#808000","#800080","#008000","#000080","#8c1aff","#000000","#ff1a8c","#ffffff"]},"legend":null},
"shape":{"field":"c","type":"nominal","scale":{"domain":["(0-5)%","(5-10)%","(10-20)%","(20-30)%","(30-40)%","(40-50)%","(50-60)%","(60-70)%","(70-80)%","(80-90)%","__"],"range":["triangle-up","triangle-down","triangle-left","circle","circle","square","square","circle","circle","triangle-up","circle"]},"legend":null}}},
{"data":{"values":[{"x":1694,"y":0.0000234,"t":"ALICE (Pb+Pb) 2.76TeV, |y|<0.5"},{"x":1729,"y":0.0000083,"t":"Anti-proton"}]},"mark":{"type":"text","font":"Liberation Sans","fontSize":20,"fontWeight":"bold","align":"center","baseline":"middle","color":"#000"},"encoding":{"text":{"field":"t"}}}
]
}
],
"spacing":0,
"bounds":"flush",
"resolve":{"scale":{"x":"independent","y":"independent"}}
}
]
}
